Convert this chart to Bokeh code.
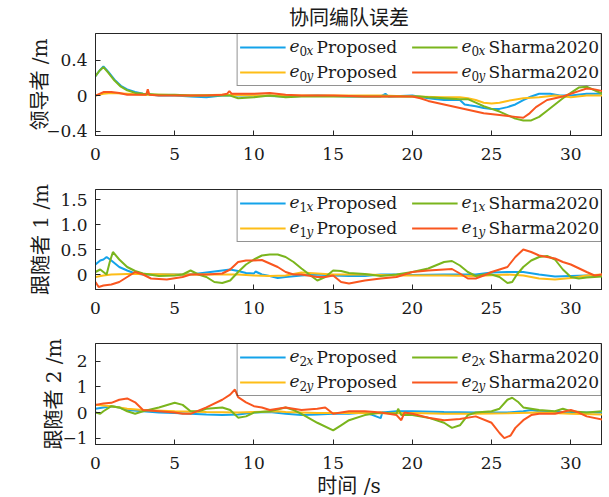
from bokeh.plotting import figure
from bokeh.layouts import column
from bokeh.models import Range1d, FixedTicker, Legend, LegendItem, ColumnDataSource
from bokeh.core.properties import value
from bokeh.embed import file_html
from bokeh.resources import INLINE

# ---------------- data ----------------
title_text = "协同编队误差"
xlabel_text = "时间 /s"
ylabels = ["领导者 /m", "跟随者 1 /m", "跟随者 2 /m"]
subscripts = ["0", "1", "2"]
x_ticks = [0, 5, 10, 15, 20, 25, 30]
x_range = (0, 32)
y_ranges = [(-0.45, 0.7), (-0.3, 1.7), (-1.25, 2.7)]
y_ticks = [[-0.4, 0, 0.4], [0, 0.5, 1.0, 1.5], [-1, 0, 1, 2]]
y_ticklabels = [["−0.4", "0", "0.4"], ["0", "0.5", "1.0", "1.5"], ["−1", "0", "1", "2"]]
methods = ["Proposed", "Sharma2020"]

# leader (e0)
e0x_proposed = [(0, 0.22), (0.25, 0.28), (0.5, 0.33), (0.8, 0.27), (1.2, 0.18), (1.6, 0.11), (2.0, 0.07),
                (2.5, 0.04), (3.0, 0.02), (4, 0.0), (5, 0.0), (6, -0.01), (7, -0.02), (8, 0.0), (9, 0.0),
                (10, 0.0), (12, -0.01), (14, 0.0), (16, -0.01), (18, -0.01), (18.3, 0.02), (18.5, -0.01),
                (20, 0.0), (21, -0.03), (22, -0.05), (23, -0.05), (23.3, -0.1), (23.6, -0.11), (24, -0.12),
                (24.5, -0.14), (25, -0.15), (25.5, -0.15), (26, -0.13), (26.5, -0.1), (27, -0.05),
                (27.5, -0.01), (28, 0.02), (28.7, 0.02), (29.3, 0.0), (30, 0.0), (31, 0.02), (32, 0.02)]
e0y_proposed = [(0, 0.0), (0.5, 0.02), (1, 0.03), (2, 0.02), (3, 0.01), (4, 0.01), (6, 0.0), (8, 0.01),
                (10, 0.0), (12, 0.0), (14, 0.0), (16, 0.0), (18, 0.0), (20, -0.01), (22, -0.02),
                (23, -0.02), (23.5, -0.03), (24, -0.05), (24.5, -0.08), (25, -0.09), (25.5, -0.08),
                (26, -0.06), (27, -0.03), (28, -0.02), (29, 0.0), (30, -0.02), (31, 0.0), (32, 0.0)]
e0x_sharma = [(0, 0.22), (0.25, 0.28), (0.5, 0.32), (0.8, 0.26), (1.2, 0.17), (1.6, 0.1), (2.0, 0.06),
              (2.5, 0.03), (3.0, 0.02), (4, 0.01), (5, 0.01), (6, 0.0), (7, 0.0), (8, 0.0), (8.5, 0.0),
              (9, -0.03), (10, -0.02), (11, 0.0), (12, -0.02), (13, -0.01), (14, -0.01), (16, -0.01),
              (18, -0.01), (20, -0.01), (20.5, -0.01), (21, -0.02), (22, -0.03), (23, -0.04),
              (23.5, -0.04), (24, -0.08), (24.5, -0.12), (25, -0.15), (25.5, -0.18), (26, -0.22),
              (26.5, -0.26), (27, -0.28), (27.5, -0.28), (28, -0.24), (28.5, -0.17), (29, -0.1),
              (29.5, -0.03), (30, 0.03), (30.5, 0.09), (31, 0.1), (31.5, 0.06), (32, 0.02)]
e0y_sharma = [(0, 0.0), (0.5, 0.04), (1.0, 0.04), (1.5, 0.03), (2.0, 0.01), (2.5, 0.01), (3.2, 0.01),
              (3.3, 0.07), (3.4, 0.01), (4, 0.0), (5, 0.0), (6, 0.0), (7, 0.0), (8, 0.01), (8.3, 0.02),
              (8.45, 0.05), (8.6, 0.02), (9, 0.02), (10, 0.02), (11, 0.03), (12, 0.01), (13, 0.0),
              (15, 0.0), (17, -0.01), (19, -0.01), (20, -0.01), (20.5, -0.03), (21, -0.06), (22, -0.1),
              (23, -0.14), (23.5, -0.16), (24.5, -0.2), (25.5, -0.22), (26.5, -0.24), (27, -0.25),
              (27.4, -0.2), (27.8, -0.13), (28.5, -0.05), (29.5, -0.01), (30, 0.02), (30.5, 0.05),
              (31, 0.08), (31.5, 0.07), (32, 0.05)]

# follower 1 (e1)
e1x_proposed = [(0, 0.2), (0.3, 0.28), (0.5, 0.3), (0.7, 0.35), (1.0, 0.28), (1.5, 0.15), (2.0, 0.08),
                (2.5, 0.02), (3, 0.0), (4, 0.0), (5, 0.0), (6, 0.0), (7, 0.04), (8, 0.08), (8.5, 0.1),
                (9, 0.07), (9.5, 0.03), (10, 0.02), (10.1, 0.06), (10.5, 0.0), (11, -0.03), (11.5, -0.07),
                (12, -0.05), (13, -0.02), (14, 0.0), (15, -0.02), (16, -0.03), (17, -0.03), (18, 0.0),
                (19, 0.0), (20, -0.01), (22, 0.0), (24, 0.0), (25, 0.04), (26, 0.05), (27, 0.05),
                (28, 0.0), (29, -0.04), (30, -0.03), (31, -0.02), (32, -0.02)]
e1y_proposed = [(0, -0.05), (0.5, -0.02), (1, 0.0), (2, 0.01), (3, 0.01), (5, 0.0), (7, 0.0), (9, 0.0),
                (10, -0.02), (11, -0.03), (12, -0.02), (13, 0.04), (14, 0.02), (15, 0.0), (17, 0.0),
                (19, -0.02), (20, -0.02), (22, -0.02), (24, -0.03), (26, 0.0), (27, -0.02), (28, -0.08),
                (29, -0.1), (30, -0.07), (31, -0.02), (32, 0.0)]
e1x_sharma = [(0, 0.05), (0.3, 0.1), (0.5, 0.05), (0.7, 0.0), (0.9, 0.25), (1.1, 0.45), (1.5, 0.3),
              (2, 0.15), (2.5, 0.07), (3, 0.02), (4, -0.03), (5, -0.02), (5.5, 0.0), (6, 0.08),
              (6.5, 0.0), (7, -0.05), (7.5, -0.15), (8, -0.17), (8.5, -0.12), (9, 0.05), (9.5, 0.2),
              (10, 0.3), (10.5, 0.38), (11, 0.4), (11.5, 0.4), (12, 0.35), (12.5, 0.25), (13, 0.12),
              (13.5, 0.0), (14, -0.12), (14.5, -0.05), (15, 0.08), (15.5, 0.07), (16, 0.03), (17, 0.01),
              (18, -0.03), (19, 0.0), (20, 0.05), (21, 0.12), (22, 0.25), (22.5, 0.27), (23, 0.18),
              (23.5, 0.05), (24, -0.03), (24.5, 0.0), (25, 0.0), (25.5, -0.05), (26, -0.17),
              (26.3, -0.15), (26.6, 0.0), (27, 0.15), (27.5, 0.28), (28, 0.35), (28.5, 0.37),
              (29, 0.3), (29.5, 0.1), (30, -0.05), (30.5, -0.08), (31, -0.06), (32, -0.04)]
e1y_sharma = [(0, -0.15), (0.2, -0.25), (0.5, -0.22), (1, -0.2), (1.5, -0.15), (2, -0.05), (2.5, 0.05),
              (3, 0.0), (3.5, -0.08), (4.5, -0.1), (5.5, -0.05), (6, 0.0), (7, 0.0), (8, 0.02),
              (8.5, 0.1), (9, 0.25), (9.5, 0.28), (10, 0.28), (10.5, 0.29), (11, 0.22), (11.5, 0.15),
              (12, 0.05), (12.5, 0.0), (13, 0.0), (14, -0.05), (14.5, -0.05), (15, -0.02),
              (15.5, -0.15), (16, -0.18), (17, -0.12), (18, -0.08), (19, -0.05), (20, 0.05),
              (21, 0.08), (22, 0.1), (22.5, 0.11), (23, 0.02), (23.5, -0.08), (24, -0.08),
              (24.5, -0.02), (25, 0.05), (26, 0.15), (26.5, 0.35), (27, 0.5), (27.5, 0.45),
              (28, 0.38), (28.5, 0.35), (29, 0.32), (29.5, 0.25), (30, 0.2), (31, 0.05),
              (31.5, -0.02), (32, 0.0)]

# follower 2 (e2)
e2x_proposed = [(0, 0.15), (0.5, 0.2), (1, 0.25), (1.5, 0.2), (2, 0.1), (3, 0.05), (4, 0.0), (5, -0.02),
                (6, -0.05), (7, -0.08), (8, -0.1), (9, -0.08), (10, 0.0), (11, 0.02), (12, -0.05),
                (13, -0.1), (14, -0.08), (15, -0.05), (16, -0.05), (17, 0.0), (17.5, -0.1), (18, -0.22),
                (18.1, 0.0), (19, 0.05), (20, 0.05), (22, 0.02), (24, 0.0), (26, 0.0), (27, 0.05),
                (27.5, 0.1), (28, 0.05), (30, 0.0), (32, 0.0)]
e2y_proposed = [(0, 0.3), (1, 0.25), (2, 0.15), (3, 0.1), (5, 0.05), (7, 0.02), (9, 0.0), (10, 0.02),
                (11.5, 0.05), (12, 0.02), (14, -0.02), (16, -0.02), (18, -0.03), (20, -0.02),
                (22, -0.05), (24, -0.05), (26, -0.03), (28, 0.0), (30, -0.05), (32, -0.08)]
e2x_sharma = [(0, 0.0), (0.3, -0.05), (0.5, 0.05), (1, 0.25), (1.5, 0.2), (2, 0.05), (2.5, -0.05),
              (3, 0.05), (4, 0.2), (5, 0.38), (5.5, 0.3), (6, 0.05), (6.5, 0.05), (7, 0.15), (8, 0.2),
              (8.5, 0.1), (9, -0.2), (9.5, -0.15), (10, 0.0), (11, 0.05), (12, 0.2), (12.5, 0.1),
              (13, -0.05), (14, -0.4), (15, -0.7), (15.5, -0.5), (16, -0.3), (17, -0.1), (18, 0.0),
              (19, -0.05), (19.1, 0.15), (19.3, -0.1), (20, -0.1), (21, -0.2), (22, -0.4),
              (22.5, -0.6), (23, -0.5), (23.5, -0.1), (24, 0.0), (25, 0.05), (25.5, 0.15), (26, 0.5),
              (26.3, 0.58), (26.7, 0.4), (27, 0.2), (28, 0.1), (29, 0.05), (29.5, 0.15), (30, 0.05),
              (31, 0.0), (32, 0.05)]
e2y_sharma = [(0, 0.3), (0.5, 0.35), (1, 0.38), (1.5, 0.5), (2, 0.55), (2.5, 0.4), (3, 0.1), (4, 0.05),
              (5, 0.0), (5.5, -0.05), (6, -0.05), (7, 0.2), (8, 0.5), (8.5, 0.7), (8.8, 0.9), (9, 0.6),
              (9.5, 0.4), (10, 0.25), (10.5, 0.2), (11, 0.1), (12, 0.2), (13, 0.1), (14, 0.15),
              (14.5, 0.2), (15, -0.05), (16, 0.05), (17, 0.05), (18, 0.0), (19, -0.1), (19.3, -0.3),
              (19.5, 0.0), (20, -0.05), (21, -0.2), (22, -0.3), (23, -0.25), (24, -0.15), (25, -0.4),
              (25.5, -0.8), (25.8, -1.0), (26.2, -0.9), (26.5, -0.6), (27, -0.3), (27.5, -0.1),
              (28, -0.05), (29, -0.05), (30, 0.1), (30.5, 0.0), (31, -0.15), (32, -0.28)]

panels_data = [
    [e0x_proposed, e0y_proposed, e0x_sharma, e0y_sharma],
    [e1x_proposed, e1y_proposed, e1x_sharma, e1y_sharma],
    [e2x_proposed, e2y_proposed, e2x_sharma, e2y_sharma],
]

# ---------------- style ----------------
colors = ["#14A3EA", "#FEBD17", "#7AB51D", "#F9561F"]   # x-Proposed, y-Proposed, x-Sharma, y-Sharma
comp = ["x", "y", "x", "y"]
FONT = "'DejaVu Serif', 'Noto Sans CJK SC'"
AX = "#262626"
TXT = "#1a1a1a"
FS = "17px"

# layout (px)
FRAME_W = 507
frame_h = [102, 100, 101]
border_top = [26, 18, 16]
border_bot = [36, 38, 43]
ylabel_standoff = [-9, 4, -7]
legend_col_x = [-313, -141]   # px from frame right edge, start of "e"
legend_row_y = [12, 37]       # px below frame top, row centres


def style_axis(ax, ticks, labels=None):
    ax.ticker = FixedTicker(ticks=ticks)
    if labels is not None:
        ax.major_label_overrides = {t: l for t, l in zip(ticks, labels)}
    ax.major_tick_in = 5
    ax.major_tick_out = 0
    ax.minor_tick_line_color = None
    ax.axis_line_color = AX
    ax.major_tick_line_color = AX
    ax.major_label_text_font = FONT
    ax.major_label_text_font_size = FS
    ax.major_label_text_color = TXT
    ax.axis_label_text_font = FONT
    ax.axis_label_text_font_size = "20px"
    ax.axis_label_text_font_style = "normal"
    ax.axis_label_text_color = TXT


figs = []
for i in range(3):
    p = figure(frame_width=FRAME_W, frame_height=frame_h[i],
               x_range=Range1d(*x_range), y_range=Range1d(*y_ranges[i]),
               output_backend="svg", toolbar_location=None,
               min_border_left=95, min_border_right=0,
               min_border_top=border_top[i], min_border_bottom=border_bot[i])
    p.xgrid.visible = False
    p.ygrid.visible = False
    p.outline_line_color = AX
    p.outline_line_width = 1
    p.background_fill_color = "white"
    p.border_fill_color = "white"

    style_axis(p.xaxis[0], x_ticks)
    p.xaxis[0].major_label_standoff = 12
    style_axis(p.yaxis[0], y_ticks[i], y_ticklabels[i])
    p.yaxis[0].major_label_standoff = 8
    p.yaxis[0].axis_label = ylabels[i]
    p.yaxis[0].axis_label_standoff = ylabel_standoff[i]
    if i == 2:
        p.xaxis[0].axis_label = xlabel_text
        p.xaxis[0].axis_label_standoff = 2

    if i == 0:
        p.title.text = title_text
        p.title.align = "center"
        p.title.text_font = FONT
        p.title.text_font_size = "20px"
        p.title.text_font_style = "normal"
        p.title.text_color = TXT
        p.title.standoff = 7

    rends = []
    for k, series in enumerate(panels_data[i]):
        t = [a for a, b in series]
        v = [b for a, b in series]
        r = p.line(t, v, line_color=colors[k], line_width=2)
        rends.append(r)

    items = [LegendItem(label=methods[k // 2], renderers=[rends[k]]) for k in range(4)]
    leg = Legend(items=items, location="top_right", ncols=2, orientation="vertical",
                 margin=0, padding=2, spacing=3, glyph_width=46, glyph_height=22,
                 label_height=22, label_width=92, label_standoff=31,
                 label_text_font=FONT, label_text_font_size=FS, label_text_color=TXT,
                 border_line_color=AX, border_line_width=1,
                 background_fill_color="white", background_fill_alpha=0.0)
    p.add_layout(leg)

    # symbol e_{ix} / e_{iy} placed into the gap between legend line and label
    xe = x_range[1]
    ye = y_ranges[i][1]
    sym = {"x": [], "y": [], "xo": [], "yo": [], "text": []}
    dig = {"x": [], "y": [], "xo": [], "yo": [], "text": []}
    cmp_ = {"x": [], "y": [], "xo": [], "yo": [], "text": []}
    for k in range(4):
        cx = legend_col_x[k // 2]
        ry = legend_row_y[k % 2]
        for d, xo, yo, txt in ((sym, cx, ry, "e"), (dig, cx + 10, ry + 5, subscripts[i]),
                               (cmp_, cx + 17, ry + 5, comp[k])):
            d["x"].append(xe); d["y"].append(ye); d["xo"].append(xo); d["yo"].append(yo); d["text"].append(txt)
    p.text(x="x", y="y", text="text", x_offset="xo", y_offset="yo", source=ColumnDataSource(sym),
           text_font=value(FONT), text_font_size=value(FS), text_font_style="italic",
           text_baseline="middle", text_align="left", text_color=TXT, level="overlay")
    p.text(x="x", y="y", text="text", x_offset="xo", y_offset="yo", source=ColumnDataSource(dig),
           text_font=value(FONT), text_font_size=value("12px"), text_font_style="normal",
           text_baseline="middle", text_align="left", text_color=TXT, level="overlay")
    p.text(x="x", y="y", text="text", x_offset="xo", y_offset="yo", source=ColumnDataSource(cmp_),
           text_font=value(FONT), text_font_size=value("12px"), text_font_style="italic",
           text_baseline="middle", text_align="left", text_color=TXT, level="overlay")
    figs.append(p)

layout = column(*figs, spacing=0)
open("out.html", "w").write(file_html(layout, INLINE))
